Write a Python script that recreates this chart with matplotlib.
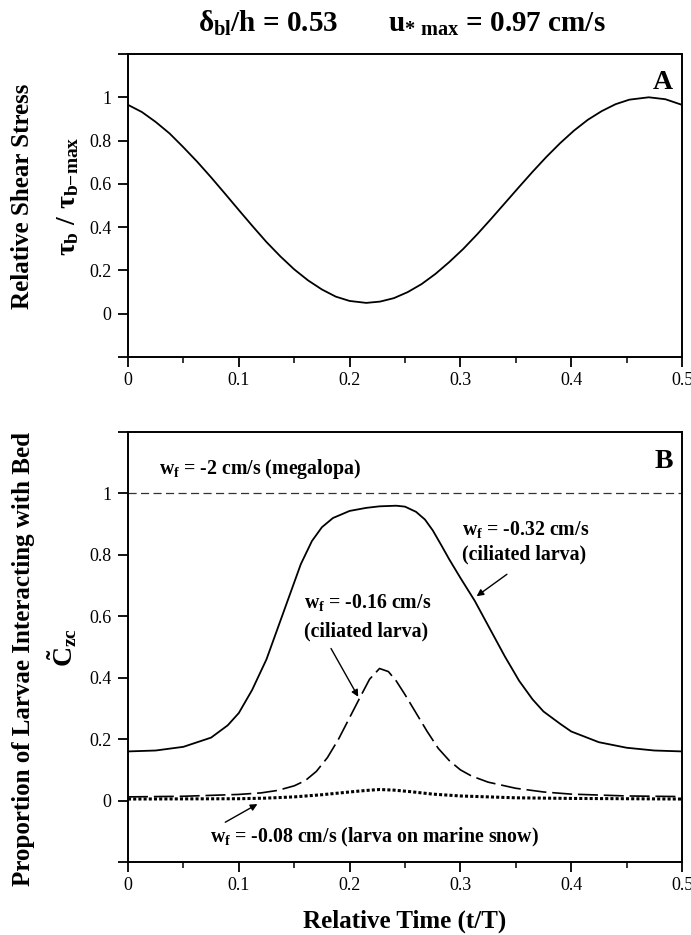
import numpy as np
import matplotlib
matplotlib.use('Agg')
import matplotlib.pyplot as plt
from matplotlib.ticker import FixedLocator, FixedFormatter, MultipleLocator

plt.rcParams['font.family'] = ['Liberation Serif', 'DejaVu Serif']
plt.rcParams['mathtext.fontset'] = 'custom'
plt.rcParams['mathtext.rm'] = 'Liberation Serif:bold'
plt.rcParams['mathtext.it'] = 'Liberation Serif:bold'
plt.rcParams['mathtext.bf'] = 'Liberation Serif:bold'

# panel A: relative bed shear stress over half a cycle
t_stress = [0, 0.0125, 0.025, 0.0375, 0.05, 0.0625, 0.075, 0.0875, 0.1, 0.1125, 0.125,
            0.1375, 0.15, 0.1625, 0.175, 0.1875, 0.2, 0.215, 0.2275, 0.24, 0.2525, 0.265,
            0.2775, 0.29, 0.3025, 0.315, 0.3275, 0.34, 0.3525, 0.365, 0.3775, 0.39, 0.4025,
            0.415, 0.4275, 0.44, 0.4525, 0.47, 0.485, 0.5]
stress = [0.965, 0.932, 0.886, 0.833, 0.769, 0.702, 0.63, 0.555, 0.479, 0.404, 0.331,
          0.265, 0.205, 0.154, 0.112, 0.079, 0.059, 0.05, 0.056, 0.072, 0.1, 0.137,
          0.184, 0.239, 0.299, 0.366, 0.437, 0.51, 0.583, 0.655, 0.724, 0.788, 0.846,
          0.896, 0.936, 0.968, 0.989, 1.0, 0.991, 0.965]

# panel B: proportion of larvae interacting with the bed
t_megalopa = [0, 0.5]
c_megalopa = [1.0, 1.0]

t_032 = [0, 0.025, 0.05, 0.075, 0.09, 0.1, 0.112, 0.125, 0.135, 0.146, 0.156, 0.166,
         0.175, 0.185, 0.2, 0.215, 0.227, 0.242, 0.25, 0.26, 0.268, 0.275, 0.283, 0.29,
         0.3, 0.313, 0.325, 0.34, 0.353, 0.365, 0.375, 0.39, 0.4, 0.425, 0.45, 0.475, 0.5]
c_032 = [0.16, 0.163, 0.175, 0.205, 0.245, 0.285, 0.36, 0.46, 0.56, 0.67, 0.77, 0.845,
         0.89, 0.92, 0.943, 0.953, 0.958, 0.96, 0.957, 0.94, 0.915, 0.88, 0.83, 0.785,
         0.725, 0.65, 0.57, 0.47, 0.39, 0.33, 0.29, 0.25, 0.225, 0.19, 0.172, 0.163, 0.16]

t_016 = [0, 0.05, 0.1, 0.12, 0.135, 0.15, 0.16, 0.17, 0.18, 0.19, 0.2, 0.21, 0.218, 0.227,
         0.235, 0.242, 0.25, 0.26, 0.27, 0.28, 0.29, 0.3, 0.31, 0.325, 0.35, 0.375, 0.4,
         0.45, 0.5]
c_016 = [0.012, 0.014, 0.02, 0.025, 0.033, 0.048, 0.065, 0.095, 0.14, 0.2, 0.27, 0.34,
         0.395, 0.43, 0.42, 0.39, 0.345, 0.285, 0.225, 0.17, 0.13, 0.1, 0.08, 0.06, 0.04,
         0.028, 0.021, 0.015, 0.013]

t_008 = [0, 0.1, 0.125, 0.15, 0.175, 0.2, 0.215, 0.227, 0.24, 0.255, 0.275, 0.3, 0.35,
         0.4, 0.5]
c_008 = [0.005, 0.006, 0.008, 0.012, 0.019, 0.028, 0.033, 0.036, 0.034, 0.029, 0.021,
         0.015, 0.009, 0.007, 0.005]

y_ticks = [-0.2, 0, 0.2, 0.4, 0.6, 0.8, 1.0, 1.2]
y_labels = ['', '0', '0.2', '0.4', '0.6', '0.8', '1', '']
x_ticks = [0, 0.1, 0.2, 0.3, 0.4, 0.5]
x_labels = ['0', '0.1', '0.2', '0.3', '0.4', '0.5']


def style_axes(ax):
    ax.set_xlim(0, 0.5)
    ax.set_ylim(-0.2, 1.2)
    ax.yaxis.set_major_locator(FixedLocator(y_ticks))
    ax.yaxis.set_major_formatter(FixedFormatter(y_labels))
    ax.xaxis.set_major_locator(FixedLocator(x_ticks))
    ax.xaxis.set_major_formatter(FixedFormatter(x_labels))
    ax.xaxis.set_minor_locator(MultipleLocator(0.05))
    ax.tick_params(which='major', direction='out', length=7, width=1.3, labelsize=13,
                   top=False, right=False)
    ax.tick_params(axis='y', which='major', pad=5)
    ax.tick_params(which='minor', direction='out', length=4, width=1.1,
                   top=False, right=False)
    for s in ax.spines.values():
        s.set_linewidth(1.4)


fig = plt.figure(figsize=(6.91, 9.35), dpi=100)
ax1 = fig.add_axes([128 / 691, 1 - 357 / 935, 554 / 691, 303 / 935])
ax2 = fig.add_axes([128 / 691, 1 - 862 / 935, 554 / 691, 430 / 935])

ax1.plot(t_stress, stress, color='black', lw=1.3)
style_axes(ax1)
ax1.text(0.492, 1.125, 'A', fontsize=20, fontweight='bold', ha='right', va='top')

ax2.plot(t_megalopa, c_megalopa, color='#333333', lw=0.9, dashes=(6.5, 3.5))
ax2.plot(t_032, c_032, color='black', lw=1.3)
ax2.plot(t_016, c_016, color='black', lw=1.2, dashes=(12, 3.5))
ax2.plot(t_008, c_008, color='black', lw=2.2, dashes=(1.0, 0.7))
style_axes(ax2)
ax2.text(0.492, 1.145, 'B', fontsize=20, fontweight='bold', ha='right', va='top')

fs = 14.3
ax2.text(0.028, 1.062, r'$w_f$ = -2 cm/s (megalopa)', fontsize=fs, fontweight='bold')
ax2.text(0.301, 0.866, r'$w_f$ = -0.32 cm/s', fontsize=fs, fontweight='bold')
ax2.text(0.301, 0.784, '(ciliated larva)', fontsize=fs, fontweight='bold')
ax2.annotate('', xy=(0.3126, 0.66), xytext=(0.344, 0.742),
             arrowprops=dict(arrowstyle='-|>', color='black', lw=1.0, mutation_scale=10))
ax2.text(0.159, 0.627, r'$w_f$ = -0.16 cm/s', fontsize=fs, fontweight='bold')
ax2.text(0.159, 0.533, '(ciliated larva)', fontsize=fs, fontweight='bold')
ax2.annotate('', xy=(0.209, 0.33), xytext=(0.182, 0.503),
             arrowprops=dict(arrowstyle='-|>', color='black', lw=1.0, mutation_scale=10))
ax2.text(0.074, -0.137, r'$w_f$ = -0.08 cm/s (larva on marine snow)', fontsize=fs,
         fontweight='bold')
ax2.annotate('', xy=(0.119, -0.007), xytext=(0.0856, -0.075),
             arrowprops=dict(arrowstyle='-|>', color='black', lw=1.0, mutation_scale=10))

fig.text(405 / 691, 1 - 928 / 935, 'Relative Time (t/T)', fontsize=18, fontweight='bold',
         ha='center', va='baseline')

# stacked y labels
fig.text(23 / 691, 1 - 196 / 935, 'Relative Shear Stress', rotation=90, fontsize=18,
         fontweight='bold', ha='center', va='center')
fig.text(68 / 691, 1 - 196 / 935, r'$\tau_b\ /\ \tau_{b\mathrm{-}max}$', rotation=90,
         fontsize=20, ha='center', va='center')
fig.text(24 / 691, 1 - 659 / 935, 'Proportion of Larvae Interacting with Bed', rotation=90,
         fontsize=18, fontweight='bold', ha='center', va='center')
fig.text(62 / 691, 1 - 647 / 935, r'$\tilde{C}_{zc}$', rotation=90, fontsize=20,
         ha='center', va='center')

fig.text(402 / 691, 1 - 32 / 935, r'$\delta_{bl}/h$ = 0.53       $u_{*\ max}$ = 0.97 cm/s',
         fontsize=21, fontweight='bold', ha='center', va='baseline')

fig.savefig('out.png', dpi=100)
